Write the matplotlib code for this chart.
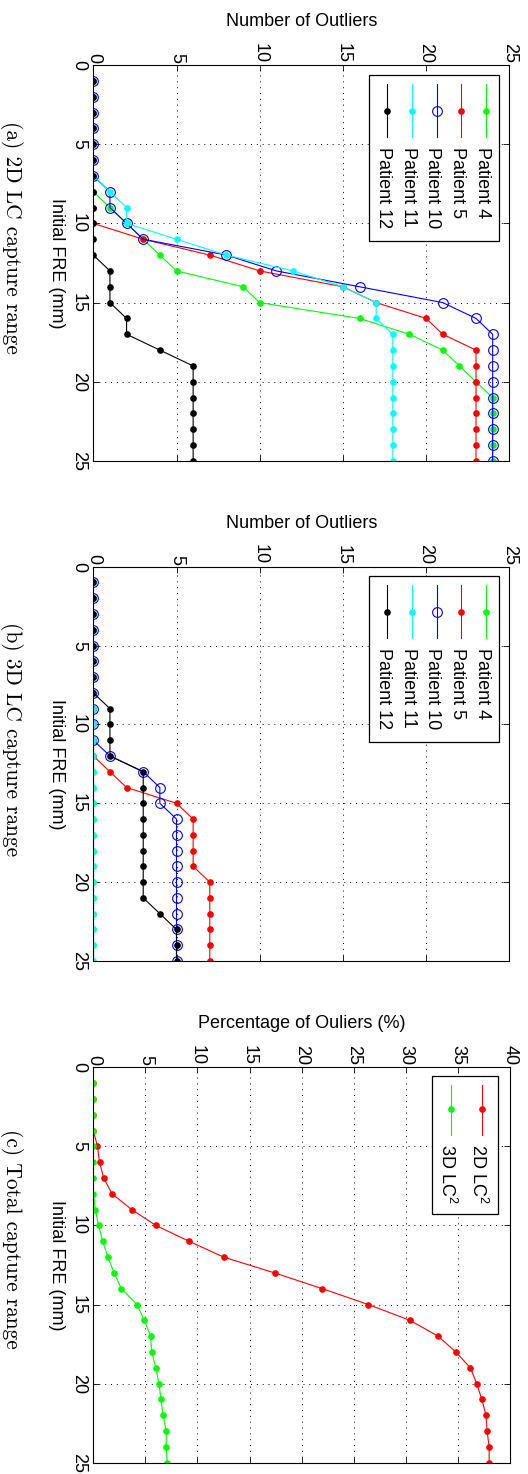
import matplotlib.pyplot as plt
from matplotlib.lines import Line2D
from matplotlib.patches import Rectangle

plt.rcParams['font.family'] = ['Liberation Sans', 'DejaVu Sans']
plt.rcParams['mathtext.fontset'] = 'custom'
plt.rcParams['mathtext.rm'] = 'Liberation Sans'
plt.rcParams['mathtext.it'] = 'Liberation Sans:italic'

# Initial FRE (mm) for every sample
fre = list(range(1, 26))

# (a) 2D LC capture range - number of outliers
p4_2d = [0, 0, 0, 0, 0, 0, 0, 0, 1, 2, 3, 4, 5, 9, 10, 16, 19, 21, 22, 23, 24, 24, 24, 24, 24]
p5_2d = [0, 0, 0, 0, 0, 0, 0, 0, 0, 0, 3, 7, 10, 15, 17, 20, 21, 23, 23, 23, 23, 23, 23, 23, 23]
p10_2d = [0, 0, 0, 0, 0, 0, 0, 1, 1, 2, 3, 8, 11, 16, 21, 23, 24, 24, 24, 24, 24, 24, 24, 24, 24]
p11_2d = [0, 0, 0, 0, 0, 0, 0, 1, 2, 2, 5, 8, 12, 15, 17, 17, 18, 18, 18, 18, 18, 18, 18, 18, 18]
p12_2d = [0, 0, 0, 0, 0, 0, 0, 0, 0, 0, 0, 0, 1, 1, 1, 2, 2, 4, 6, 6, 6, 6, 6, 6, 6]

# (b) 3D LC capture range - number of outliers
p4_3d = [0] * 25
p5_3d = [0, 0, 0, 0, 0, 0, 0, 0, 0, 0, 0, 0, 1, 2, 5, 6, 6, 6, 6, 7, 7, 7, 7, 7, 7]
p10_3d = [0, 0, 0, 0, 0, 0, 0, 0, 0, 0, 0, 1, 3, 4, 4, 5, 5, 5, 5, 5, 5, 5, 5, 5, 5]
p11_3d = [0] * 25
p12_3d = [0, 0, 0, 0, 0, 0, 0, 0, 1, 1, 1, 1, 3, 3, 3, 3, 3, 3, 3, 3, 3, 4, 5, 5, 5]

# (c) total capture range - percentage of outliers
pct_2d = [0, 0, 0, 0, 0.4, 0.6, 1.0, 1.8, 3.7, 6.0, 9.2, 12.5, 17.4, 22.0, 26.4,
          30.4, 33.1, 34.8, 36.2, 36.8, 37.3, 37.7, 37.8, 38.0, 38.0]
pct_3d = [0, 0, 0, 0, 0, 0, 0, 0, 0.2, 0.5, 0.9, 1.4, 2.0, 2.7, 4.2,
          4.9, 5.5, 5.6, 6.0, 6.3, 6.5, 6.7, 7.0, 7.0, 7.1]

patient_labels = ['Patient 4', 'Patient 5', 'Patient 10', 'Patient 11', 'Patient 12']
patient_colors = ['#00ff00', '#ff0000', '#0000ff', '#00ffff', '#000000']
total_labels = ['2D LC$^2$', '3D LC$^2$']
total_colors = ['#ff0000', '#00ff00']

fre_ticks = [0, 5, 10, 15, 20, 25]
count_ticks = [0, 5, 10, 15, 20, 25]
pct_ticks = [0, 5, 10, 15, 20, 25, 30, 35, 40]

DOT = 4.8      # filled marker size
RING = 7.0     # open circle size

W, H = 528, 1474
fig = plt.figure(figsize=(W / 100, H / 100), dpi=100)


def fx(px):
    return px / W


def fy(py):
    return 1 - py / H


def make_axes(left, right, top, bottom, xticks, xlabel, caption):
    ax = fig.add_axes([fx(left), fy(bottom), (right - left) / W, (bottom - top) / H])
    ax.set_xlim(xticks[0], xticks[-1])
    ax.set_ylim(25, 0)
    ax.xaxis.tick_top()
    ax.set_xticks(xticks)
    ax.set_xticklabels([str(t) for t in xticks], rotation=-90, va='bottom', ha='center')
    ax.set_yticks(fre_ticks)
    ax.set_yticklabels([str(t) for t in fre_ticks], rotation=-90, va='center', ha='right')
    ax.tick_params(axis='both', direction='in', top=True, bottom=True, left=True, right=True,
                   length=4, width=0.6, labelsize=13)
    ax.tick_params(axis='x', pad=1.5)
    ax.tick_params(axis='y', pad=4.5)
    ax.grid(True, color='black', linestyle=(0, (1, 5)), linewidth=0.7)
    ax.set_axisbelow(True)
    for s in ax.spines.values():
        s.set_linewidth(0.8)
    fig.text(fx((left + right) / 2), fy(top - 39), xlabel, ha='center', va='baseline', fontsize=13)
    fig.text(fx(56), fy((top + bottom) / 2), 'Initial FRE (mm)', rotation=-90,
             ha='center', va='center', fontsize=13)
    fig.text(fx(11), fy(top + 172), caption, rotation=-90, ha='center', va='center',
             fontsize=15.4, fontfamily='cmr10')
    return ax


def add_legend(box, xs, labels, colors, circle, line_off, mark_off, text_off):
    x0, y0, x1, y1 = box
    fig.add_artist(Rectangle((fx(x0), fy(y1)), (x1 - x0) / W, (y1 - y0) / H,
                             transform=fig.transFigure, facecolor='white',
                             edgecolor='black', linewidth=0.9, zorder=5))
    for x, lab, c, circ in zip(xs, labels, colors, circle):
        fig.add_artist(Line2D([fx(x), fx(x)], [fy(y0 + line_off[0]), fy(y0 + line_off[1])],
                              transform=fig.transFigure, color=c, linewidth=0.8, zorder=6))
        if circ:
            fig.add_artist(Line2D([fx(x)], [fy(y0 + mark_off)], transform=fig.transFigure,
                                  marker='o', markersize=RING, markerfacecolor='none',
                                  markeredgecolor=c, markeredgewidth=0.8, zorder=7))
        else:
            fig.add_artist(Line2D([fx(x)], [fy(y0 + mark_off)], transform=fig.transFigure,
                                  marker='o', markersize=DOT, markerfacecolor=c,
                                  markeredgewidth=0, zorder=7))
        fig.text(fx(x - 3.5), fy(y0 + text_off), lab, rotation=-90, ha='center', va='top',
                 fontsize=13, zorder=8)


def plot_patients(ax, series):
    for vals, c, lab in zip(series, patient_colors, patient_labels):
        if lab == 'Patient 10':
            ax.plot(vals, fre, color=c, linewidth=0.8, marker='o', markersize=RING,
                    markerfacecolor='none', markeredgecolor=c, markeredgewidth=0.8)
        else:
            ax.plot(vals, fre, color=c, linewidth=0.8, marker='o', markersize=DOT,
                    markeredgewidth=0)


circle_flags = [lab == 'Patient 10' for lab in patient_labels]
patient_x = [486, 461.25, 436.5, 411.75, 387]

ax1 = make_axes(93.3, 509.3, 65, 461, count_ticks, 'Number of Outliers', '(a) 2D LC capture range')
plot_patients(ax1, [p4_2d, p5_2d, p10_2d, p11_2d, p12_2d])
add_legend((369, 75, 499, 241), patient_x, patient_labels, patient_colors, circle_flags,
           (8.5, 62), 36, 72)

ax2 = make_axes(93.3, 509.3, 566.7, 961, count_ticks, 'Number of Outliers', '(b) 3D LC capture range')
plot_patients(ax2, [p4_3d, p5_3d, p10_3d, p11_3d, p12_3d])
add_legend((369, 576, 499, 742), patient_x, patient_labels, patient_colors, circle_flags,
           (8.5, 62), 36, 72)

ax3 = make_axes(93.3, 510, 1067.3, 1462.7, pct_ticks, 'Percentage of Ouliers (%)', '(c) Total capture range')
for vals, c in zip([pct_2d, pct_3d], total_colors):
    ax3.plot(vals, fre, color=c, linewidth=0.8, marker='o', markersize=DOT, markeredgewidth=0)
add_legend((432, 1075.7, 498, 1214), [481.7, 450.7], total_labels, total_colors, [False, False],
           (9.5, 59.5), 33.5, 68)

fig.savefig('out.png', dpi=100)
